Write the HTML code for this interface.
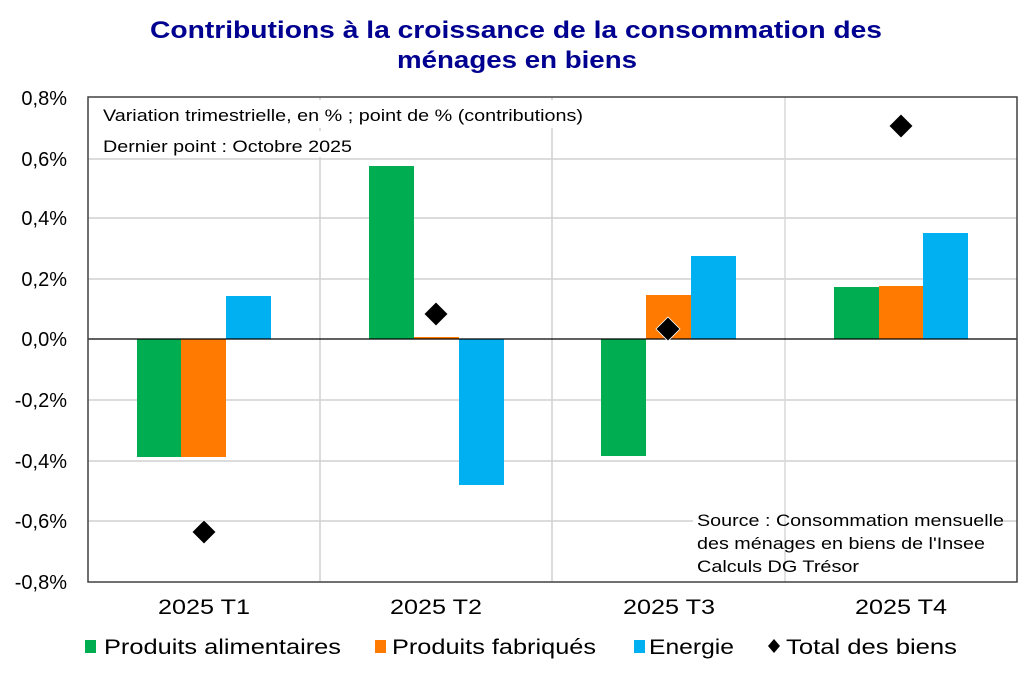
<!DOCTYPE html>
<html><head><meta charset="utf-8"><style>
html,body{margin:0;padding:0;background:#fff;}
svg{display:block;font-family:"Liberation Sans",Arial,sans-serif;}
</style></head><body>
<svg width="1034" height="674" viewBox="0 0 1034 674" xmlns="http://www.w3.org/2000/svg">
<rect width="1034" height="674" fill="#fff"/>
<text x="516" y="38" text-anchor="middle" font-size="24" font-weight="bold" fill="#000090" textLength="732" lengthAdjust="spacingAndGlyphs">Contributions à la croissance de la consommation des</text>
<text x="517" y="68" text-anchor="middle" font-size="24" font-weight="bold" fill="#000090" textLength="240" lengthAdjust="spacingAndGlyphs">ménages en biens</text>
<!-- grid -->
<g stroke="#d0d0d0" stroke-width="1.5">
<line x1="88" y1="159" x2="1017" y2="159"/>
<line x1="88" y1="218" x2="1017" y2="218"/>
<line x1="88" y1="279" x2="1017" y2="279"/>
<line x1="88" y1="400" x2="1017" y2="400"/>
<line x1="88" y1="461" x2="1017" y2="461"/>
<line x1="88" y1="521" x2="1017" y2="521"/>
<line x1="320" y1="97" x2="320" y2="582"/>
<line x1="552" y1="97" x2="552" y2="582"/>
</g>
<!-- text boxes -->
<rect x="98" y="100" width="488" height="28" fill="#fff"/>
<rect x="98" y="131" width="260" height="26" fill="#fff"/>
<text x="103" y="121" font-size="17" fill="#000" textLength="480" lengthAdjust="spacingAndGlyphs">Variation trimestrielle, en % ; point de % (contributions)</text>
<text x="103" y="152" font-size="17" fill="#000" textLength="249" lengthAdjust="spacingAndGlyphs">Dernier point : Octobre 2025</text>
<rect x="693" y="508" width="310" height="72" fill="#fff"/>
<line x1="785" y1="97" x2="785" y2="582" stroke="#d8d8d8" stroke-width="1.5"/>
<text font-size="16.5" fill="#000">
<tspan x="697" y="526" textLength="307" lengthAdjust="spacingAndGlyphs">Source : Consommation mensuelle</tspan>
<tspan x="697" y="549" textLength="288" lengthAdjust="spacingAndGlyphs">des ménages en biens de l'Insee</tspan>
<tspan x="697" y="572" textLength="162" lengthAdjust="spacingAndGlyphs">Calculs DG Trésor</tspan>
</text>
<!-- bars -->
<g>
<rect x="137" y="339" width="44" height="118" fill="#00ad50"/>
<rect x="181" y="339" width="45" height="118" fill="#ff7a00"/>
<rect x="226" y="296" width="45" height="43" fill="#00b0f0"/>
<rect x="369" y="166" width="45" height="173" fill="#00ad50"/>
<rect x="414" y="337" width="45" height="2" fill="#ff7a00"/>
<rect x="459" y="339" width="45" height="146" fill="#00b0f0"/>
<rect x="601" y="339" width="45" height="117" fill="#00ad50"/>
<rect x="646" y="295" width="45" height="44" fill="#ff7a00"/>
<rect x="691" y="256" width="45" height="83" fill="#00b0f0"/>
<rect x="834" y="287" width="45" height="52" fill="#00ad50"/>
<rect x="879" y="286" width="44" height="53" fill="#ff7a00"/>
<rect x="923" y="233" width="45" height="106" fill="#00b0f0"/>
</g>
<line x1="88" y1="339" x2="1017" y2="339" stroke="#000" stroke-width="1.3"/>
<!-- diamonds -->
<g fill="#000" stroke="#fff" stroke-width="0.8">
<polygon points="204,520 216,532 204,544 192,532"/>
<polygon points="436,302 448,314 436,326 424,314"/>
<polygon points="668,317 680,329 668,341 656,329"/>
<polygon points="901,114 913,126 901,138 889,126"/>
</g>
<rect x="88" y="97" width="929" height="485" fill="none" stroke="#404040" stroke-width="1.5"/>
<!-- y labels -->
<g font-size="20" fill="#000" text-anchor="end">
<text x="67" y="105">0,8%</text>
<text x="67" y="166">0,6%</text>
<text x="67" y="225">0,4%</text>
<text x="67" y="286">0,2%</text>
<text x="67" y="346">0,0%</text>
<text x="67" y="407">-0,2%</text>
<text x="67" y="468">-0,4%</text>
<text x="67" y="528">-0,6%</text>
<text x="67" y="589">-0,8%</text>
</g>
<!-- x labels -->
<g font-size="21" fill="#000" text-anchor="middle">
<text x="204" y="614" textLength="92" lengthAdjust="spacingAndGlyphs">2025 T1</text>
<text x="436" y="614" textLength="92" lengthAdjust="spacingAndGlyphs">2025 T2</text>
<text x="669" y="614" textLength="92" lengthAdjust="spacingAndGlyphs">2025 T3</text>
<text x="901" y="614" textLength="92" lengthAdjust="spacingAndGlyphs">2025 T4</text>
</g>
<!-- legend -->
<rect x="85" y="640" width="11" height="13" fill="#00ad50"/>
<text x="104" y="654" font-size="21" textLength="237" lengthAdjust="spacingAndGlyphs">Produits alimentaires</text>
<rect x="375" y="640" width="11" height="13" fill="#ff7a00"/>
<text x="392" y="654" font-size="21" textLength="204" lengthAdjust="spacingAndGlyphs">Produits fabriqués</text>
<rect x="634" y="640" width="11" height="13" fill="#00b0f0"/>
<text x="649" y="654" font-size="21" textLength="85" lengthAdjust="spacingAndGlyphs">Energie</text>
<polygon points="774,639 780,646 774,653 768,646" fill="#000"/>
<text x="786" y="654" font-size="21" textLength="171" lengthAdjust="spacingAndGlyphs">Total des biens</text>
</svg>
</body></html>
